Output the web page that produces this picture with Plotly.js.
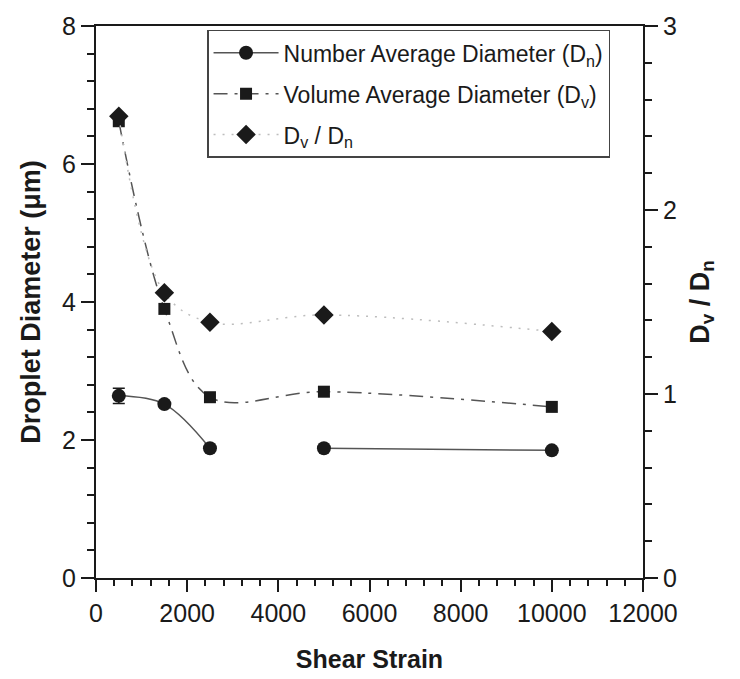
<!DOCTYPE html>
<html>
<head>
<meta charset="utf-8">
<script src="https://cdn.plot.ly/plotly-3.0.1.min.js"></script>
<style>html,body{margin:0;padding:0;background:#fff;}#chart{width:740px;height:679px;}</style>
</head>
<body>
<div id="chart"></div>
<script>
// Data
var shearStrain = [500, 1500, 2500, 5000, 10000];
var numberAvgDiameter = [2.64, 2.52, 1.88, 1.88, 1.85];
var numberAvgError = [0.11, 0, 0, 0, 0];
var volumeAvgDiameter = [6.62, 3.90, 2.62, 2.70, 2.48];
var ratioDvDn = [2.51, 1.55, 1.39, 1.43, 1.34];
var seriesNames = ['Number Average Diameter (D<sub>n</sub>)', 'Volume Average Diameter (D<sub>v</sub>)', 'D<sub>v</sub> / D<sub>n</sub>'];

var FONT = 'Liberation Sans, Arial, Helvetica, sans-serif';
var dark = '#1a1a1a';

// Number average line has a gap between 2500 and 5000 in the reference
var seg1 = [0, 1, 2], seg2 = [3, 4];
function pick(arr, idx) { return idx.map(function (i) { return arr[i]; }); }

var traces = [
  {
    x: pick(shearStrain, seg1), y: pick(numberAvgDiameter, seg1),
    name: seriesNames[0], legendgroup: 'a', type: 'scatter', mode: 'lines+markers',
    line: {color: '#555', width: 1.5, shape: 'spline'},
    marker: {symbol: 'circle', size: 14, color: dark},
    error_y: {type: 'data', array: pick(numberAvgError, seg1), color: dark, thickness: 1.5, width: 6}
  },
  {
    x: pick(shearStrain, seg2), y: pick(numberAvgDiameter, seg2),
    name: seriesNames[0], legendgroup: 'a', showlegend: false, type: 'scatter', mode: 'lines+markers',
    line: {color: '#555', width: 1.5, shape: 'spline'},
    marker: {symbol: 'circle', size: 14, color: dark}
  },
  {
    x: shearStrain, y: volumeAvgDiameter,
    name: seriesNames[1], legendgroup: 'b', type: 'scatter', mode: 'lines+markers',
    line: {color: '#555', width: 1.5, shape: 'spline', dash: '14px,7px,3px,7px'},
    marker: {symbol: 'square', size: 12, color: dark}
  },
  {
    x: shearStrain, y: ratioDvDn, yaxis: 'y2',
    name: seriesNames[2], legendgroup: 'c', type: 'scatter', mode: 'lines+markers',
    line: {color: '#bdbdbd', width: 1.5, shape: 'spline', dash: '2px,7px'},
    marker: {symbol: 'diamond', size: 15, color: dark}
  }
];

var tickFont = {family: FONT, size: 25, color: dark};
var xTitleFont = {family: FONT, size: 25, color: dark, weight: 'bold'};
var yTitleFont = {family: FONT, size: 27, color: dark, weight: 'bold'};

var layout = {
  width: 740, height: 679,
  margin: {l: 96, r: 97, t: 26, b: 101},
  paper_bgcolor: '#fff', plot_bgcolor: '#fff',
  showlegend: true,
  legend: {
    x: 0.203, y: 0.993, xanchor: 'left', yanchor: 'top',
    bgcolor: '#fff', bordercolor: '#444', borderwidth: 1.5,
    font: {family: FONT, size: 23, color: dark},
    itemwidth: 65, traceorder: 'grouped', tracegroupgap: 8
  },
  xaxis: {
    range: [0, 12000], tickmode: 'linear', tick0: 0, dtick: 2000, tickformat: 'd',
    showgrid: false, zeroline: false,
    showline: true, linecolor: dark, linewidth: 2, mirror: true,
    ticks: 'outside', ticklen: 12, tickwidth: 2, tickcolor: dark,
    minor: {tickmode: 'linear', tick0: 0, dtick: 400, ticks: 'outside', ticklen: 6, tickwidth: 1.5, tickcolor: dark, showgrid: false},
    tickfont: tickFont,
    title: {text: 'Shear Strain', font: xTitleFont, standoff: 24}
  },
  yaxis: {
    range: [0, 8], tickmode: 'linear', tick0: 0, dtick: 2,
    showgrid: false, zeroline: false,
    showline: true, linecolor: dark, linewidth: 2,
    ticks: 'outside', ticklen: 13, tickwidth: 2, tickcolor: dark,
    minor: {tickmode: 'linear', tick0: 0, dtick: 0.4, ticks: 'outside', ticklen: 7, tickwidth: 1.5, tickcolor: dark, showgrid: false},
    tickfont: tickFont,
    title: {text: 'Droplet Diameter (\u03bcm)', font: yTitleFont, standoff: 14}
  },
  yaxis2: {
    overlaying: 'y', side: 'right',
    range: [0, 3], tickmode: 'linear', tick0: 0, dtick: 1,
    showgrid: false, zeroline: false,
    showline: true, linecolor: dark, linewidth: 2,
    ticks: 'outside', ticklen: 13, tickwidth: 2, tickcolor: dark,
    minor: {tickmode: 'linear', tick0: 0, dtick: 0.2, ticks: 'outside', ticklen: 7, tickwidth: 1.5, tickcolor: dark, showgrid: false},
    tickfont: tickFont,
    title: {text: 'D<sub>v</sub> / D<sub>n</sub>', font: yTitleFont, standoff: 14}
  }
};

Plotly.newPlot('chart', traces, layout, {displayModeBar: false});
</script>
</body>
</html>
